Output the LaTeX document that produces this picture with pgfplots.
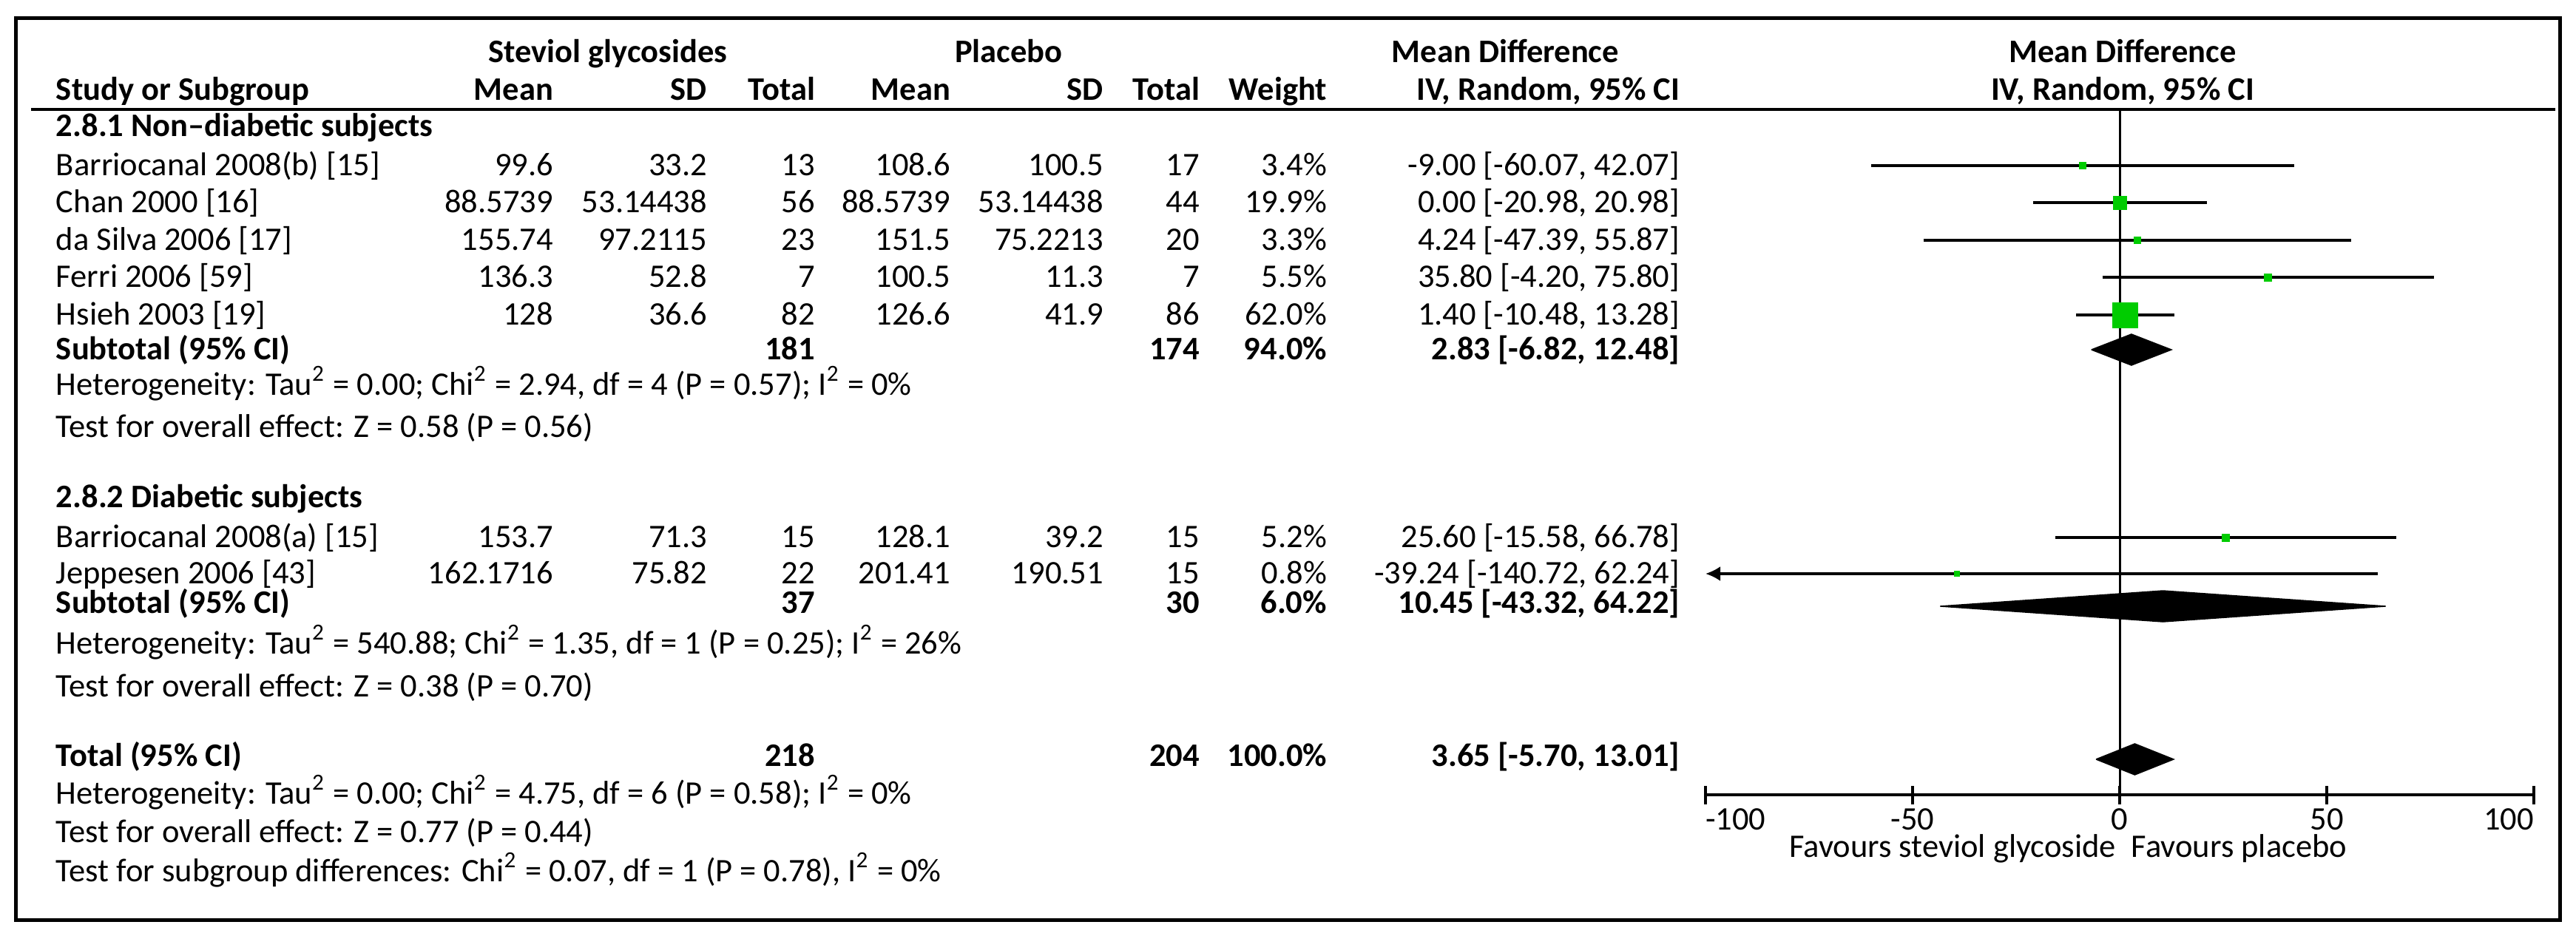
\documentclass[border=0pt]{standalone}
\usepackage{fontspec}
\setmainfont{Carlito}
\usepackage{pgfplots}
\pgfplotsset{compat=1.18}
\usetikzlibrary{arrows.meta}
\definecolor{rmgreen}{RGB}{0,204,0}

% text helpers, coordinates in pixels of the reference (scope x=0.2pt, y=-0.2pt)
\newcommand\Lt[3]{\node[anchor=base west,inner sep=0pt] at (#1,#2) {#3};}
\newcommand\Rt[3]{\node[anchor=base east,inner sep=0pt] at (#1,#2) {#3};}
\newcommand\Ct[3]{\node[anchor=base,inner sep=0pt] at (#1,#2) {#3};}
\newcommand\datarow[9]{%
  \Rt{749}{#1}{#2}\Rt{957}{#1}{#3}\Rt{1103}{#1}{#4}%
  \Rt{1286}{#1}{#5}\Rt{1493}{#1}{#6}\Rt{1623}{#1}{#7}%
  \Rt{1795}{#1}{#8}\Rt{2272}{#1}{#9}}
\newcommand\sq{\textsuperscript{2}}

\begin{document}
\fontsize{8.9}{10}\selectfont
\begin{tikzpicture}
\path[use as bounding box] (0,0) rectangle (696.6pt,-253.2pt);

\begin{axis}[
  at={(461.2pt,-215pt)}, anchor=south west,
  scale only axis, width=224pt, height=185.4pt,
  xmin=-100, xmax=100, ymin=148, ymax=1075, y dir=reverse,
  axis x line*=bottom, axis y line=none,
  axis line style={line width=0.8pt},
  xtick={-100,-50,0,50,100},
  xticklabels={\rlap{-100},-50,0,50,\llap{100}},
  xtick align=center, major tick length=5pt,
  tick style={line width=0.8pt, black},
  x tick label style={inner sep=0pt, yshift=-1pt},
  ytick=\empty,
  clip=false,
]
% line of no effect
\addplot[line width=0.6pt] coordinates {(0,148) (0,1075)};

% confidence intervals
\addplot[line width=0.7pt] coordinates {(-60.07,224) (42.07,224)};
\addplot[line width=0.7pt] coordinates {(-20.98,274) (20.98,274)};
\addplot[line width=0.7pt] coordinates {(-47.39,325) (55.87,325)};
\addplot[line width=0.7pt] coordinates {(-4.20,375) (75.80,375)};
\addplot[line width=0.7pt] coordinates {(-10.48,426) (13.28,426)};
\addplot[line width=0.7pt] coordinates {(-15.58,727) (66.78,727)};
\addplot[line width=0.7pt, -{Latex[length=4pt,width=4pt]}] coordinates {(62.24,776) (-100,776)};

% study estimates, square size by weight
\addplot[only marks, mark=square*, mark size=0.9pt, rmgreen, mark options={line width=0pt}] coordinates {(-9.00,224)};
\addplot[only marks, mark=square*, mark size=1.8pt, rmgreen, mark options={line width=0pt}] coordinates {(0.00,274)};
\addplot[only marks, mark=square*, mark size=0.9pt, rmgreen, mark options={line width=0pt}] coordinates {(4.24,325)};
\addplot[only marks, mark=square*, mark size=1.0pt, rmgreen, mark options={line width=0pt}] coordinates {(35.80,375)};
\addplot[only marks, mark=square*, mark size=3.4pt, rmgreen, mark options={line width=0pt}] coordinates {(1.40,426)};
\addplot[only marks, mark=square*, mark size=1.0pt, rmgreen, mark options={line width=0pt}] coordinates {(25.60,727)};
\addplot[only marks, mark=square*, mark size=0.7pt, rmgreen, mark options={line width=0pt}] coordinates {(-39.24,776)};

% pooled estimates
\addplot[fill=black, line width=0.3pt] coordinates {(-6.82,473) (2.83,452) (12.48,473) (2.83,494) (-6.82,473)};
\addplot[fill=black, line width=0.3pt] coordinates {(-43.32,820) (10.45,799) (64.22,820) (10.45,841) (-43.32,820)};
\addplot[fill=black, line width=0.3pt] coordinates {(-5.70,1027) (3.65,1006) (13.01,1027) (3.65,1048) (-5.70,1027)};
\end{axis}

\begin{scope}[x=0.2pt,y=-0.2pt]
\draw[line width=1pt] (22,25) rectangle (3462,1245);
\draw[line width=0.8pt] (42,148) -- (3455,148);

% header
\begin{scope}[font=\bfseries]
\Ct{822}{85}{Steviol glycosides}
\Ct{1364}{85}{Placebo}
\Rt{2190}{85}{Mean Difference}
\Ct{2870}{85}{Mean Difference}
\Lt{75}{136}{Study or Subgroup}
\Rt{749}{136}{Mean}\Rt{957}{136}{SD}\Rt{1103}{136}{Total}
\Rt{1286}{136}{Mean}\Rt{1493}{136}{SD}\Rt{1623}{136}{Total}
\Rt{1795}{136}{Weight}\Rt{2272}{136}{IV, Random, 95\% CI}
\Ct{2870}{136}{IV, Random, 95\% CI}
\end{scope}

% subgroup 1
\Lt{75}{185}{\bfseries 2.8.1 Non–diabetic subjects}
\Lt{75}{238}{Barriocanal 2008(b) [15]}
\datarow{238}{99.6}{33.2}{13}{108.6}{100.5}{17}{3.4\%}{-9.00 [-60.07, 42.07]}
\Lt{75}{288}{Chan 2000 [16]}
\datarow{288}{88.5739}{53.14438}{56}{88.5739}{53.14438}{44}{19.9\%}{0.00 [-20.98, 20.98]}
\Lt{75}{339}{da Silva 2006 [17]}
\datarow{339}{155.74}{97.2115}{23}{151.5}{75.2213}{20}{3.3\%}{4.24 [-47.39, 55.87]}
\Lt{75}{389}{Ferri 2006 [59]}
\datarow{389}{136.3}{52.8}{7}{100.5}{11.3}{7}{5.5\%}{35.80 [-4.20, 75.80]}
\Lt{75}{440}{Hsieh 2003 [19]}
\datarow{440}{128}{36.6}{82}{126.6}{41.9}{86}{62.0\%}{1.40 [-10.48, 13.28]}
\begin{scope}[font=\bfseries]
\Lt{75}{487}{Subtotal (95\% CI)}
\Rt{1103}{487}{181}\Rt{1623}{487}{174}\Rt{1795}{487}{94.0\%}\Rt{2272}{487}{2.83 [-6.82, 12.48]}
\end{scope}
\Lt{75}{535}{Heterogeneity: Tau\sq{} = 0.00; Chi\sq{} = 2.94, df = 4 (P = 0.57); I\sq{} = 0\%}
\Lt{75}{592}{Test for overall effect: Z = 0.58 (P = 0.56)}

% subgroup 2
\Lt{75}{687}{\bfseries 2.8.2 Diabetic subjects}
\Lt{75}{741}{Barriocanal 2008(a) [15]}
\datarow{741}{153.7}{71.3}{15}{128.1}{39.2}{15}{5.2\%}{25.60 [-15.58, 66.78]}
\Lt{75}{790}{Jeppesen 2006 [43]}
\datarow{790}{162.1716}{75.82}{22}{201.41}{190.51}{15}{0.8\%}{-39.24 [-140.72, 62.24]}
\begin{scope}[font=\bfseries]
\Lt{75}{830}{Subtotal (95\% CI)}
\Rt{1103}{830}{37}\Rt{1623}{830}{30}\Rt{1795}{830}{6.0\%}\Rt{2272}{830}{10.45 [-43.32, 64.22]}
\end{scope}
\Lt{75}{885}{Heterogeneity: Tau\sq{} = 540.88; Chi\sq{} = 1.35, df = 1 (P = 0.25); I\sq{} = 26\%}
\Lt{75}{943}{Test for overall effect: Z = 0.38 (P = 0.70)}

% total
\begin{scope}[font=\bfseries]
\Lt{75}{1037}{Total (95\% CI)}
\Rt{1103}{1037}{218}\Rt{1623}{1037}{204}\Rt{1795}{1037}{100.0\%}\Rt{2272}{1037}{3.65 [-5.70, 13.01]}
\end{scope}
\Lt{75}{1088}{Heterogeneity: Tau\sq{} = 0.00; Chi\sq{} = 4.75, df = 6 (P = 0.58); I\sq{} = 0\%}
\Lt{75}{1140}{Test for overall effect: Z = 0.77 (P = 0.44)}
\Lt{75}{1193}{Test for subgroup differences: Chi\sq{} = 0.07, df = 1 (P = 0.78), I\sq{} = 0\%}

% favours labels
\Rt{2862}{1160}{Favours steviol glycoside}
\Lt{2881}{1160}{Favours placebo}
\end{scope}
\end{tikzpicture}
\end{document}
